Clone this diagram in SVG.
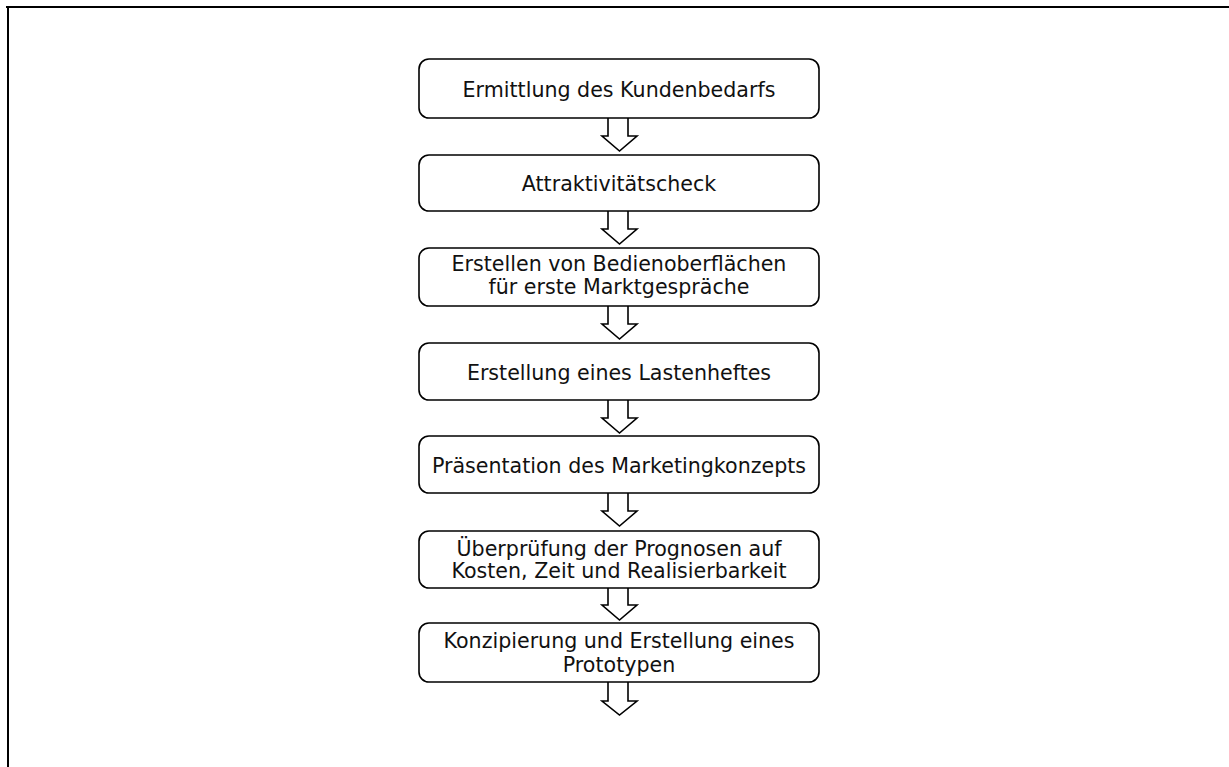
<svg xmlns="http://www.w3.org/2000/svg" width="1229" height="767" viewBox="0 0 1229 767">
<style>
.box{fill:#fff;stroke:#000;stroke-width:1.6}
.t{font-family:"DejaVu Sans",Verdana,sans-serif;font-size:20.6px;fill:#111;text-anchor:middle}
.arr{fill:#fff;stroke:#000;stroke-width:1.6;stroke-linejoin:miter}
</style>
<rect width="1229" height="767" fill="#fff"/>
<path d="M6 7 H1229 M8 7 V767" stroke="#000" stroke-width="2" fill="none"/>
<g id="connectors">
<path class="arr" d="M608 118 V136 H602 L619.5 151 L637 136 H628 V118"/>
<path class="arr" d="M608 211 V229 H602 L619.5 244 L637 229 H628 V211"/>
<path class="arr" d="M608 306 V324 H602 L619.5 339 L637 324 H628 V306"/>
<path class="arr" d="M608 400 V418 H602 L619.5 433 L637 418 H628 V400"/>
<path class="arr" d="M608 493 V511 H602 L619.5 526 L637 511 H628 V493"/>
<path class="arr" d="M608 588 V605 H602 L619.5 620 L637 605 H628 V588"/>
<path class="arr" d="M608 682 V701 H602 L619.5 715 L637 701 H628 V682"/>
</g>
<g id="n1"><rect class="box" x="419" y="59" width="400" height="59" rx="10"/><text class="t" x="619" y="97">Ermittlung des Kundenbedarfs</text></g>
<g id="n2"><rect class="box" x="419" y="155" width="400" height="56" rx="10"/><text class="t" x="619" y="191">Attraktivitätscheck</text></g>
<g id="n3"><rect class="box" x="419" y="248" width="400" height="58" rx="10"/><text class="t" x="619" y="271">Erstellen von Bedienoberflächen</text><text class="t" x="619" y="294">für erste Marktgespräche</text></g>
<g id="n4"><rect class="box" x="419" y="343" width="400" height="57" rx="10"/><text class="t" x="619" y="380">Erstellung eines Lastenheftes</text></g>
<g id="n5"><rect class="box" x="419" y="436" width="400" height="57" rx="10"/><text class="t" x="619" y="473">Präsentation des Marketingkonzepts</text></g>
<g id="n6"><rect class="box" x="419" y="531" width="400" height="57" rx="10"/><text class="t" x="619" y="556">Überprüfung der Prognosen auf</text><text class="t" x="619" y="578">Kosten, Zeit und Realisierbarkeit</text></g>
<g id="n7"><rect class="box" x="419" y="623" width="400" height="59" rx="10"/><text class="t" x="619" y="648">Konzipierung und Erstellung eines</text><text class="t" x="619" y="672">Prototypen</text></g>
</svg>
